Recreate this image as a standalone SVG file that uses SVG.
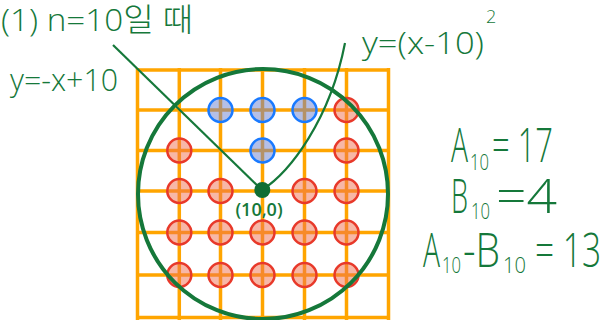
<svg xmlns="http://www.w3.org/2000/svg" width="608" height="320" viewBox="0 0 608 320">
<style>
.grid line{stroke:#ffa500;stroke-width:3.5}
.red{fill:#f07050;fill-opacity:0.5;stroke:#e8392a;stroke-width:2.5}
.blue{fill:#6a80d0;fill-opacity:0.5;stroke:#1a7aff;stroke-width:2.5}
.g{stroke:#15783a;fill:none}
.t{fill:#15783a;font-family:"Open Sans","Noto Sans CJK KR",sans-serif;font-weight:300}
</style>
<rect width="608" height="320" fill="#ffffff"/>
<g id="grid" class="grid">
<line x1="137.5" y1="68" x2="137.5" y2="320"/>
<line x1="179.3" y1="68" x2="179.3" y2="320"/>
<line x1="220.5" y1="68" x2="220.5" y2="320"/>
<line x1="262.5" y1="68" x2="262.5" y2="320"/>
<line x1="304.5" y1="68" x2="304.5" y2="320"/>
<line x1="346.5" y1="68" x2="346.5" y2="320"/>
<line x1="388.5" y1="68" x2="388.5" y2="320"/>
<line x1="136" y1="70" x2="390" y2="70"/>
<line x1="136" y1="110" x2="390" y2="110"/>
<line x1="136" y1="150.5" x2="390" y2="150.5"/>
<line x1="136" y1="191" x2="390" y2="191"/>
<line x1="136" y1="232.5" x2="390" y2="232.5"/>
<line x1="136" y1="275" x2="390" y2="275"/>
<line x1="136" y1="317.5" x2="390" y2="317.5"/>
</g>
<g id="blue-points">
<circle class="blue" cx="220.5" cy="110" r="12"/>
<circle class="blue" cx="262.5" cy="110" r="12"/>
<circle class="blue" cx="304.5" cy="110" r="12"/>
<circle class="blue" cx="262.5" cy="150.5" r="12"/>
</g>
<g id="red-points">
<circle class="red" cx="346.5" cy="110" r="12"/>
<circle class="red" cx="179.3" cy="150.5" r="12"/>
<circle class="red" cx="346.5" cy="150.5" r="12"/>
<circle class="red" cx="179.3" cy="191" r="12"/>
<circle class="red" cx="220.5" cy="191" r="12"/>
<circle class="red" cx="304.5" cy="191" r="12"/>
<circle class="red" cx="346.5" cy="191" r="12"/>
<circle class="red" cx="179.3" cy="232.5" r="12"/>
<circle class="red" cx="220.5" cy="232.5" r="12"/>
<circle class="red" cx="262.5" cy="232.5" r="12"/>
<circle class="red" cx="304.5" cy="232.5" r="12"/>
<circle class="red" cx="346.5" cy="232.5" r="12"/>
<circle class="red" cx="179.3" cy="275" r="12"/>
<circle class="red" cx="220.5" cy="275" r="12"/>
<circle class="red" cx="262.5" cy="275" r="12"/>
<circle class="red" cx="304.5" cy="275" r="12"/>
<circle class="red" cx="346.5" cy="275" r="12"/>
</g>
<g id="connectors">
<circle class="g" cx="263" cy="194" r="125" stroke-width="4"/>
<line class="g" x1="113" y1="45" x2="262" y2="190" stroke-width="2.2"/>
<path class="g" d="M262,190 C290,172 330,120 345,43" stroke-width="2.2"/>
</g>
<g id="center">
<circle cx="262.3" cy="190" r="8" fill="#0e6e34"/>
<text class="t" x="259" y="216" font-size="18" text-anchor="middle" style="font-weight:600">(10,0)</text>
</g>
<g id="labels">
<text class="t" x="1" y="31" font-size="32" textLength="192" lengthAdjust="spacingAndGlyphs">(1) n=10일 때</text>
<text class="t" x="10" y="91" font-size="32" textLength="108" lengthAdjust="spacingAndGlyphs">y=-x+10</text>
<text class="t" x="362" y="54" font-size="32" textLength="122" lengthAdjust="spacingAndGlyphs">y=(x-10)</text>
<text class="t" x="486" y="23" font-size="18">2</text>
<text class="t" x="451" y="162" font-size="48" textLength="17" lengthAdjust="spacingAndGlyphs">A</text>
<text class="t" x="470" y="170" font-size="22" textLength="19" lengthAdjust="spacingAndGlyphs">10</text>
<text class="t" x="492" y="162" font-size="48" textLength="61" lengthAdjust="spacingAndGlyphs">= 17</text>
<text class="t" x="451" y="213" font-size="48" textLength="17" lengthAdjust="spacingAndGlyphs">B</text>
<text class="t" x="471" y="219" font-size="22" textLength="19" lengthAdjust="spacingAndGlyphs">10</text>
<text class="t" x="496" y="213" font-size="48" textLength="61" lengthAdjust="spacingAndGlyphs">=4</text>
<text class="t" x="423" y="267" font-size="48" textLength="17" lengthAdjust="spacingAndGlyphs">A</text>
<text class="t" x="442" y="273" font-size="22" textLength="19" lengthAdjust="spacingAndGlyphs">10</text>
<text class="t" x="463" y="267" font-size="48" textLength="37" lengthAdjust="spacingAndGlyphs">-B</text>
<text class="t" x="503" y="273" font-size="22" textLength="23" lengthAdjust="spacingAndGlyphs">10</text>
<text class="t" x="535" y="267" font-size="48" textLength="66" lengthAdjust="spacingAndGlyphs">= 13</text>
</g>
</svg>
